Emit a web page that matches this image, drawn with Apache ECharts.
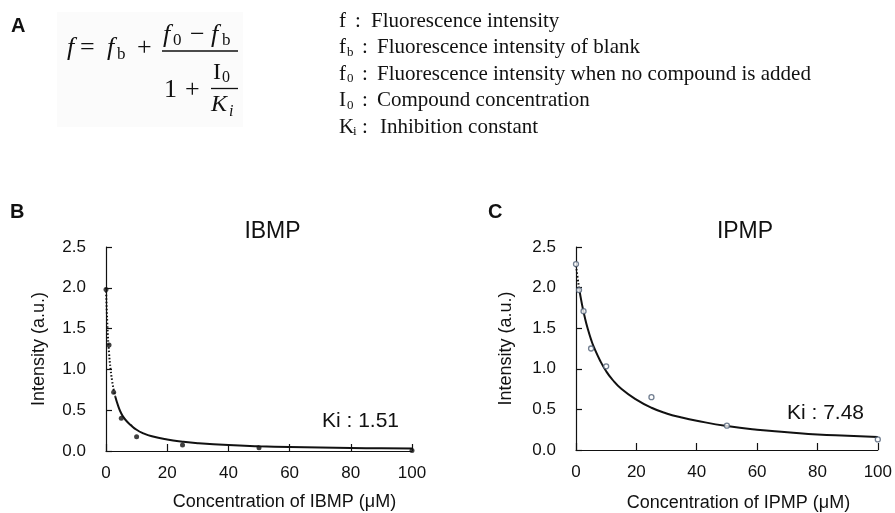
<!DOCTYPE html>
<html>
<head>
<meta charset="utf-8">
<script src="https://cdn.jsdelivr.net/npm/echarts@6/dist/echarts.min.js"></script>
<style>
html,body{margin:0;padding:0;background:#fff;}
#chart{width:895px;height:513px;}
</style>
</head>
<body>
<div id="chart"></div>
<script>
// ---- data ----
const xTicks = [0, 20, 40, 60, 80, 100];
const yTicks = [0.0, 0.5, 1.0, 1.5, 2.0, 2.5];

const ibmpConc = [0, 1, 2.5, 5, 10, 25, 50, 100];
const ibmpIntensity = [1.98, 1.30, 0.72, 0.40, 0.175, 0.073, 0.04, 0.005];
const ibmpFitConc = [0, 0.5, 1, 1.5, 2, 2.5, 3, 4, 5, 6, 7, 8, 10, 12, 15, 20, 25, 30, 40, 50, 60, 70, 80, 90, 100];
const ibmpFitIntensity = [2.00, 1.50, 1.20, 1.00, 0.86, 0.75, 0.67, 0.55, 0.46, 0.40, 0.355, 0.32, 0.26, 0.22, 0.18, 0.14, 0.114, 0.096, 0.073, 0.059, 0.049, 0.042, 0.037, 0.033, 0.030];
const ibmpKi = '1.51';

const ipmpConc = [0, 1, 2.5, 5, 10, 25, 50, 100];
const ipmpIntensity = [2.29, 1.97, 1.71, 1.25, 1.03, 0.65, 0.30, 0.13];
const ipmpFitConc = [0, 0.5, 1, 2, 3, 4, 5, 6, 8, 10, 12, 15, 20, 25, 30, 35, 40, 50, 60, 70, 80, 90, 100];
const ipmpFitIntensity = [2.27, 2.13, 2.00, 1.79, 1.62, 1.48, 1.36, 1.26, 1.10, 0.97, 0.87, 0.755, 0.62, 0.52, 0.45, 0.40, 0.36, 0.295, 0.25, 0.22, 0.19, 0.175, 0.16];
const ipmpKi = '7.48';

const legendLines = [
  ['f', '', 'Fluorescence intensity'],
  ['f', 'b', 'Fluorescence intensity of blank'],
  ['f', '0', 'Fluorescence intensity when no compound is added'],
  ['I', '0', 'Compound concentration'],
  ['K', 'i', 'Inhibition constant']
];

// ---- helpers ----
const pairs = (xs, ys) => xs.map((x, i) => [x, ys[i]]);
const SANS = "'Liberation Sans', Arial, sans-serif";
const SERIF = "'Liberation Serif', 'Times New Roman', serif";
function T(text, x, y, o) {
  o = o || {};
  const st = Object.assign({
    text: text, fontFamily: SERIF, fontSize: 26, fill: '#111',
    align: 'left', verticalAlign: 'middle', textAlign: 'left', textVerticalAlign: 'middle'
  }, o);
  if (o.align) st.textAlign = o.align;
  return { type: 'text', x: x, y: y, style: st, silent: true };
}
function L(x1, y1, x2, y2, w) {
  return { type: 'line', shape: { x1: x1, y1: y1, x2: x2, y2: y2 }, style: { stroke: '#111', lineWidth: w || 1.3 }, silent: true };
}
const it = { fontStyle: 'italic' };

const graphics = [];
graphics.push({ type: 'rect', shape: { x: 57, y: 12, width: 186, height: 115 }, style: { fill: '#fbfbfb' }, z: -10, silent: true });
// panel letters
graphics.push(T('A', 11, 26, { fontFamily: SANS, fontWeight: 'bold', fontSize: 20 }));
graphics.push(T('B', 10, 212, { fontFamily: SANS, fontWeight: 'bold', fontSize: 20 }));
graphics.push(T('C', 488, 212, { fontFamily: SANS, fontWeight: 'bold', fontSize: 20 }));
// formula
graphics.push(T('f', 67, 48, it));
graphics.push(T('=', 80, 48));
graphics.push(T('f', 107, 48, it));
graphics.push(T('b', 117, 55, { fontSize: 17 }));
graphics.push(T('+', 137, 48));
graphics.push(T('f', 163, 35, it));
graphics.push(T('0', 173, 41, { fontSize: 17 }));
graphics.push(T('\u2212', 190, 35));
graphics.push(T('f', 211, 35, it));
graphics.push(T('b', 222, 41, { fontSize: 17 }));
graphics.push(L(162, 51, 238, 51, 1.4));
graphics.push(T('1', 164, 90));
graphics.push(T('+', 185, 90));
graphics.push(T('I', 213, 73, { fontSize: 24 }));
graphics.push(T('0', 222, 78, { fontSize: 16 }));
graphics.push(L(211, 88.5, 238, 88.5, 1.3));
graphics.push(T('K', 211, 105, { fontStyle: 'italic', fontSize: 24 }));
graphics.push(T('i', 229, 112, { fontStyle: 'italic', fontSize: 16 }));
// definitions
const lineY = [21, 47.5, 74, 100.5, 127];
legendLines.forEach((ln, i) => {
  const y = lineY[i];
  graphics.push(T(ln[0], 339, y, { fontSize: 21 }));
  if (ln[1]) {
    graphics.push(T(ln[1], ln[0] === 'K' ? 353 : 347, y + 5, { fontSize: 13 }));
    graphics.push(T(':', 362, y, { fontSize: 21 }));
    graphics.push(T(ln[2], ln[0] === 'K' ? 380 : 377, y, { fontSize: 21 }));
  } else {
    graphics.push(T(':', 355, y, { fontSize: 21 }));
    graphics.push(T(ln[2], 371, y, { fontSize: 21 }));
  }
});
// titles & Ki
graphics.push(T('IBMP', 272.5, 232, { fontFamily: SANS, fontSize: 23, align: 'center' }));
graphics.push(T('IPMP', 745, 232, { fontFamily: SANS, fontSize: 23, align: 'center' }));
graphics.push(T('Ki : ' + ibmpKi, 322, 421, { fontFamily: SANS, fontSize: 21 }));
graphics.push(T('Ki : ' + ipmpKi, 787, 413, { fontFamily: SANS, fontSize: 21 }));

function xAxisCfg(grid, name, gap, shift) {
  return {
    type: 'value', gridIndex: grid, min: 0, max: 100, interval: 20,
    name: name, nameLocation: 'middle', nameGap: gap,
    nameTextStyle: { fontFamily: SANS, fontSize: 18, color: '#111', padding: [0, 0, 0, shift] },
    axisLine: { show: true, onZero: false, lineStyle: { color: '#111', width: 1.2 } },
    axisTick: { show: true, inside: true, length: 7, lineStyle: { color: '#111', width: 1.2 } },
    axisLabel: { fontFamily: SANS, fontSize: 17, color: '#111', margin: 14,
      formatter: v => (xTicks.indexOf(v) >= 0 ? String(v) : '') },
    splitLine: { show: false }
  };
}
function yAxisCfg(grid, gap) {
  return {
    type: 'value', gridIndex: grid, min: 0, max: 2.5, interval: 0.5,
    name: 'Intensity (a.u.)', nameLocation: 'middle', nameGap: gap, nameRotate: 90,
    nameTextStyle: { fontFamily: SANS, fontSize: 18, color: '#111' },
    axisLine: { show: true, lineStyle: { color: '#111', width: 1.2 } },
    axisTick: { show: true, inside: true, length: 6, lineStyle: { color: '#111', width: 1.2 } },
    axisLabel: { fontFamily: SANS, fontSize: 17, color: '#111', margin: 20,
      formatter: v => (yTicks.indexOf(v) >= 0 ? v.toFixed(1) : '') },
    splitLine: { show: false }
  };
}

const ibmpFit = pairs(ibmpFitConc, ibmpFitIntensity);
const ipmpFit = pairs(ipmpFitConc, ipmpFitIntensity);
const ibmpSplit = ibmpFitConc.indexOf(3);
const ipmpSplit = ipmpFitConc.indexOf(1);

const fitStyle = { color: '#111', width: 2 };
const option = {
  backgroundColor: '#fff',
  animation: false,
  grid: [
    { left: 106, top: 247, width: 306, height: 204 },
    { left: 576, top: 247, width: 306, height: 205 }
  ],
  xAxis: [
    xAxisCfg(0, 'Concentration of IBMP (\u03bcM)', 42, 51),
    xAxisCfg(1, 'Concentration of IPMP (\u03bcM)', 44, 23)
  ],
  yAxis: [yAxisCfg(0, 58), yAxisCfg(1, 61)],
  series: [
    { type: 'line', xAxisIndex: 0, yAxisIndex: 0, data: ibmpFit.slice(0, ibmpSplit + 1), smooth: true, showSymbol: false,
      lineStyle: { color: '#111', width: 2, type: [1.5, 2] }, z: 2 },
    { type: 'line', xAxisIndex: 0, yAxisIndex: 0, data: ibmpFit.slice(ibmpSplit), smooth: true, showSymbol: false,
      lineStyle: fitStyle, z: 2 },
    { type: 'scatter', xAxisIndex: 0, yAxisIndex: 0, data: pairs(ibmpConc, ibmpIntensity), symbol: 'circle', symbolSize: 5,
      itemStyle: { color: '#111' }, z: 3 },
    { type: 'line', xAxisIndex: 1, yAxisIndex: 1, data: ipmpFit.slice(0, ipmpSplit + 1), smooth: true, showSymbol: false,
      lineStyle: { color: '#111', width: 2, type: [1.5, 2] }, z: 2 },
    { type: 'line', xAxisIndex: 1, yAxisIndex: 1, data: ipmpFit.slice(ipmpSplit), smooth: true, showSymbol: false,
      lineStyle: fitStyle, z: 2 },
    { type: 'scatter', xAxisIndex: 1, yAxisIndex: 1, data: pairs(ipmpConc, ipmpIntensity), symbol: 'circle', symbolSize: 5,
      itemStyle: { color: '#ffffff', borderColor: '#4f5f75', borderWidth: 1.3 }, z: 3 }
  ],
  graphic: graphics
};
const chart = echarts.init(document.getElementById('chart'), null, { renderer: 'canvas' });
chart.setOption(option);
</script>
</body>
</html>
